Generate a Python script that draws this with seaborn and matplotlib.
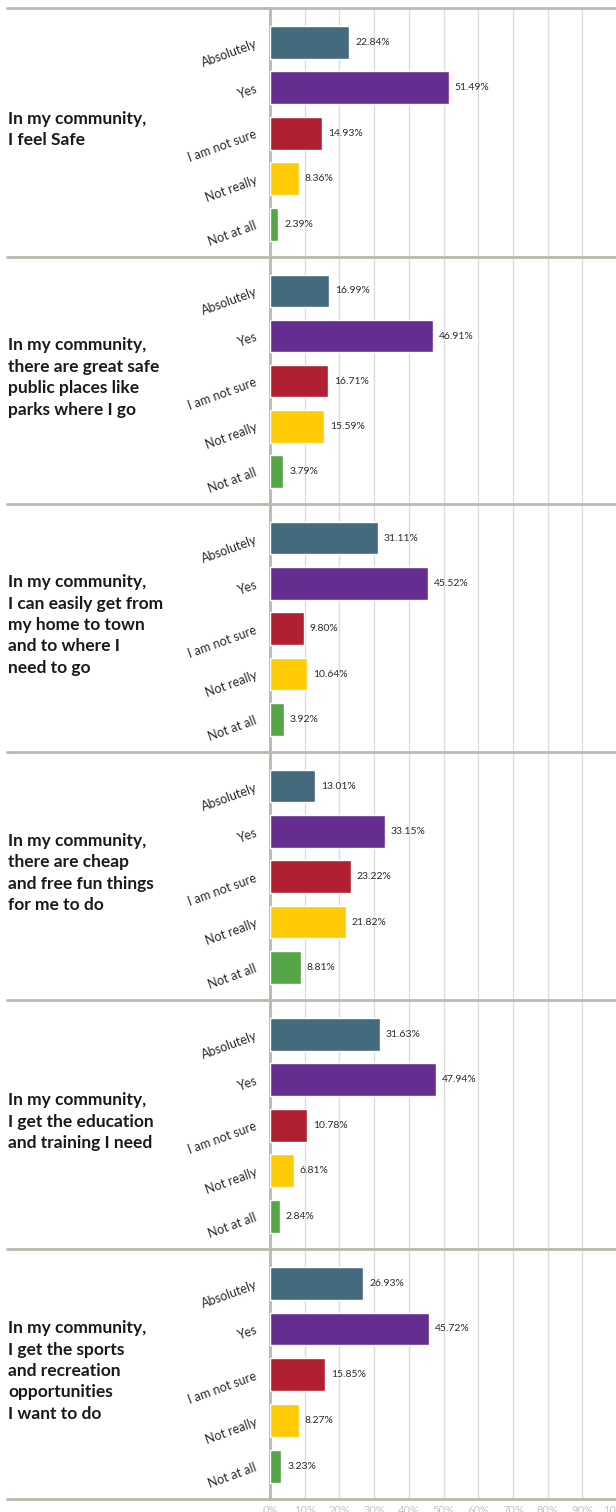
import matplotlib
matplotlib.use("Agg")
import matplotlib.pyplot as plt
import seaborn as sns
import pandas as pd
from matplotlib.lines import Line2D

questions = [
    "In my community,\nI feel Safe",
    "In my community,\nthere are great safe\npublic places like\nparks where I go",
    "In my community,\nI can easily get from\nmy home to town\nand to where I\nneed to go",
    "In my community,\nthere are cheap\nand free fun things\nfor me to do",
    "In my community,\nI get the education\nand training I need",
    "In my community,\nI get the sports\nand recreation\nopportunities\nI want to do",
]
responses = ["Absolutely", "Yes", "I am not sure", "Not really", "Not at all"]
absolutely = [22.84, 16.99, 31.11, 13.01, 31.63, 26.93]
yes = [51.49, 46.91, 45.52, 33.15, 47.94, 45.72]
not_sure = [14.93, 16.71, 9.80, 23.22, 10.78, 15.85]
not_really = [8.36, 15.59, 10.64, 21.82, 6.81, 8.27]
not_at_all = [2.39, 3.79, 3.92, 8.81, 2.84, 3.23]
x_ticks = [0, 10, 20, 30, 40, 50, 60, 70, 80, 90, 100]
x_tick_labels = ["0%", "10%", "20%", "30%", "40%", "50%", "60%", "70%", "80%", "90%", "100%"]

colors = ["#446a7d", "#652d90", "#b01f32", "#ffcb05", "#55a547"]

sns.set_theme(style="white")
plt.rcParams["font.family"] = ["Lato", "DejaVu Sans"]

W, H = 616, 1512
fig = plt.figure(figsize=(W / 100, H / 100), dpi=100)

seps = [8, 257, 504, 752, 1000, 1249, 1499]
left_px, right_px = 270, 617
sep_col = "#b9b9ad"

for i in range(6):
    top, bot = seps[i], seps[i + 1]
    ax = fig.add_axes([left_px / W, 1 - bot / H, (right_px - left_px) / W, (bot - top) / H])
    vals = [absolutely[i], yes[i], not_sure[i], not_really[i], not_at_all[i]]
    df = pd.DataFrame({"resp": responses, "pct": vals})
    sns.barplot(data=df, x="pct", y="resp", hue="resp", order=responses,
                hue_order=responses, palette=colors, ax=ax, width=0.72,
                legend=False, orient="h", saturation=1, zorder=3)
    ax.set_xlim(0, 100)
    ax.set_ylim(4.72, -0.75)
    ax.set_xticks(x_ticks)
    ax.grid(axis="x", color="#dcdcdc", lw=1, zorder=0)
    ax.set_axisbelow(True)
    for s in ["top", "right", "bottom"]:
        ax.spines[s].set_visible(False)
    ax.spines["left"].set_color(sep_col)
    ax.spines["left"].set_linewidth(2)
    ax.set_xlabel("")
    ax.set_ylabel("")
    ax.tick_params(axis="y", length=0, pad=10)
    for lab in ax.get_yticklabels():
        lab.set_rotation(20)
        lab.set_ha("right")
        lab.set_rotation_mode("anchor")
        lab.set_fontsize(9)
        lab.set_color("#2a2a2a")
    if i < 5:
        ax.set_xticklabels([])
        ax.tick_params(axis="x", length=0)
    else:
        ax.set_xticklabels(x_tick_labels, fontsize=8, color="#c4c4c4")
        ax.tick_params(axis="x", length=0, pad=4)
    for j, v in enumerate(vals):
        ax.text(v + 1.7, j, f"{v:.2f}%", va="center", ha="left", fontsize=7.5, color="#2a2a2a")
    fig.text(8 / W, 1 - ((top + bot) / 2 - 3) / H, questions[i], ha="left", va="center",
             fontsize=12.5, fontweight="bold", color="#1a1a1a", linespacing=1.42)

for y in seps:
    fig.add_artist(Line2D([7 / W, 1], [1 - y / H, 1 - y / H], color=sep_col, lw=2,
                          transform=fig.transFigure))

fig.savefig("out.png", dpi=100)
